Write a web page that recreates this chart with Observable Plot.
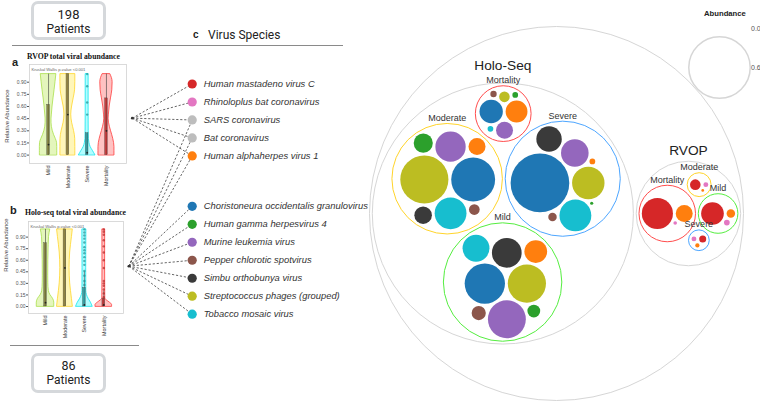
<!DOCTYPE html>
<html><head><meta charset="utf-8">
<script src="https://cdn.jsdelivr.net/npm/d3@7"></script>
<script src="https://cdn.jsdelivr.net/npm/@observablehq/plot@0.6"></script>
<style>
body{margin:0;background:#fff;}
#wrap{position:relative;width:760px;height:403px;overflow:hidden;background:#fff;font-family:"Liberation Sans",Arial,sans-serif;color:#222;}
#wrap svg{position:absolute;}
.box{position:absolute;border:3px solid #d5d8db;border-radius:7px;box-sizing:border-box;text-align:center;font-family:Roboto,"Liberation Sans",sans-serif;font-size:12px;line-height:14px;color:#222;}
.hr{position:absolute;height:0;border-top:1px solid #8a8a8a;}
.title{position:absolute;font-family:"Liberation Serif",serif;font-weight:bold;font-size:7.7px;color:#111;white-space:nowrap;line-height:8px;}
.plab{position:absolute;font-weight:bold;font-size:11px;line-height:12px;}
.ylab{position:absolute;transform:translate(-50%,-50%) rotate(-90deg);font-size:6px;white-space:nowrap;color:#444;}
.t{position:absolute;white-space:nowrap;}
</style></head><body><div id="wrap">
<div class="box" style="left:31px;top:1px;width:75px;height:39px;padding-top:4px;"><span style="font-size:13px">198</span><br>Patients</div>
<div class="box" style="left:31px;top:353px;width:75px;height:40px;padding-top:3px;"><span style="font-size:12.5px">86</span><br>Patients</div>
<div class="hr" style="left:12px;top:45px;width:331px;"></div>
<div class="hr" style="left:10px;top:345px;width:129px;"></div>
<div class="t" style="left:193px;top:28px;font-size:10px;font-weight:bold;line-height:14px;">c</div>
<div class="t" style="left:208px;top:28px;font-size:12px;line-height:14px;font-family:Roboto,'Liberation Sans',sans-serif;">Virus Species</div>
<div class="plab" style="left:12px;top:56px;">a</div>
<div class="title" style="left:27px;top:53px;">RVOP total viral abundance</div>
<div class="plab" style="left:10px;top:204px;">b</div>
<div class="title" style="left:25px;top:209px;">Holo-seq total viral abundance</div>
<div class="ylab" style="left:7px;top:116px;">Relative Abundance</div>
<div class="ylab" style="left:6px;top:245px;">Relative Abundance</div>
<div class="t" style="left:704px;top:9px;font-size:7.7px;font-weight:bold;line-height:10px;">Abundance</div>
<div class="t" style="left:751px;top:25px;font-size:7px;color:#555;line-height:8px;">0.0</div>
<div class="t" style="left:751px;top:64px;font-size:7px;color:#555;line-height:8px;">0.6</div>
</div>
<script>
// ---------- data ----------
const severityGroups = ["Mild", "Moderate", "Severe", "Mortality"];

// violin profiles: [relative abundance, relative density]
const rvopMildViolin = [[0,1.0],[0.05,1.0],[0.1,1.0],[0.15,0.98],[0.2,0.83],[0.25,0.63],[0.3,0.48],[0.35,0.38],[0.4,0.34],[0.45,0.34],[0.5,0.38],[0.6,0.46],[0.7,0.57],[0.8,0.69],[0.9,0.8],[1.0,0.9]];
const rvopModerateViolin = [[0,0.86],[0.1,0.86],[0.2,0.85],[0.3,0.71],[0.4,0.49],[0.5,0.39],[0.6,0.49],[0.7,0.67],[0.8,0.83],[0.9,0.86],[1.0,0.86]];
const rvopSevereViolin = [[0,0.94],[0.05,0.67],[0.1,0.4],[0.15,0.26],[0.2,0.2],[0.3,0.18],[0.5,0.17],[1.0,0.17]];
const rvopMortalityViolin = [[0,0.92],[0.1,0.92],[0.2,0.78],[0.3,0.52],[0.4,0.29],[0.45,0.25],[0.5,0.28],[0.6,0.37],[0.7,0.52],[0.8,0.67],[0.9,0.71],[0.95,0.63],[1.0,0.44]];
// boxes: [low whisker, q1, median, q3, high whisker]
const rvopBoxes = [[0,0,0.13,0.62,1.0],[0,0,0.5,1.0,1.0],[0,0,0.03,0.27,0.27],[0,0,0.3,0.70,1.0]];
const rvopOutliers = [[],[],[0.5,0.65,0.85,1.0],[]];

const holoMildViolin = [[0,1.0],[0.05,1.0],[0.1,0.86],[0.15,0.55],[0.2,0.38],[0.3,0.32],[0.4,0.31],[0.6,0.32],[0.8,0.36],[0.9,0.4],[0.95,0.46],[1.0,0.54]];
const holoModerateViolin = [[0,0.9],[0.1,0.8],[0.2,0.69],[0.3,0.6],[0.5,0.53],[0.7,0.6],[0.8,0.69],[0.9,0.8],[1.0,0.9]];
const holoSevereViolin = [[0,0.94],[0.05,0.75],[0.1,0.48],[0.15,0.29],[0.2,0.22],[0.5,0.21],[1.0,0.23]];
const holoMortalityViolin = [[0,0.95],[0.02,0.95],[0.05,0.69],[0.08,0.34],[0.1,0.17],[0.5,0.15],[1.0,0.16]];
const holoBoxes = [[0,0,0.05,0.82,1.0],[0,0,0.5,1.0,1.0],[0,0,0.02,0.24,0.45],[0,0,0.02,0.1,0.2]];
const holoOutliers = [[],[],[1.0,0.96,0.92,0.88,0.83,0.77,0.73,0.69,0.64,0.59,0.54,0.46,0.40,0.33,0.28],[1.0,0.97,0.93,0.86,0.78,0.70,0.60,0.50,0.33,0.30,0.27,0.22,0.17,0.12]];

const yTicks = [0, 0.15, 0.30, 0.45, 0.60, 0.75, 0.90];
const kruskalText = "Kruskal Wallis p-value <0.001";

// virus species legend
const speciesNames = ["Human mastadeno virus C","Rhinoloplus bat coronavirus","SARS coronavirus","Bat coronavirus","Human alphaherpes virus 1",
  "Choristoneura occidentalis granulovirus","Human gamma herpesvirus 4","Murine leukemia virus","Pepper chlorotic spotvirus","Simbu orthobunya virus","Streptococcus phages (grouped)","Tobacco mosaic virus"];
const speciesColors = ["#d62728","#e377c2","#bdbdbd","#bdbdbd","#ff7f0e","#1f77b4","#2ca02c","#9467bd","#8c564b","#3a3a3a","#bcbd22","#17becf"];
const rvopLinked = ["Human mastadeno virus C","Rhinoloplus bat coronavirus","SARS coronavirus","Bat coronavirus","Human alphaherpes virus 1"];
const holoLinked = ["SARS coronavirus","Bat coronavirus","Human alphaherpes virus 1","Choristoneura occidentalis granulovirus","Human gamma herpesvirus 4","Murine leukemia virus","Pepper chlorotic spotvirus","Simbu orthobunya virus","Streptococcus phages (grouped)","Tobacco mosaic virus"];

// circle packing: mean abundance per species (pack order)
const holoModerate = [["Streptococcus phages (grouped)",0.368],["Choristoneura occidentalis granulovirus",0.306],["Tobacco mosaic virus",0.161],["Murine leukemia virus",0.146],["Human gamma herpesvirus 4",0.058],["Simbu orthobunya virus",0.049],["Human alphaherpes virus 1",0.046],["Pepper chlorotic spotvirus",0.018]];
const holoSevere = [["Choristoneura occidentalis granulovirus",0.547],["Streptococcus phages (grouped)",0.167],["Tobacco mosaic virus",0.161],["Murine leukemia virus",0.121],["Simbu orthobunya virus",0.103],["Pepper chlorotic spotvirus",0.0114],["Human alphaherpes virus 1",0.0052],["Human gamma herpesvirus 4",0.0016]];
const holoMild = [["Choristoneura occidentalis granulovirus",0.258],["Streptococcus phages (grouped)",0.232],["Murine leukemia virus",0.228],["Simbu orthobunya virus",0.140],["Tobacco mosaic virus",0.115],["Human alphaherpes virus 1",0.082],["Pepper chlorotic spotvirus",0.032],["Human gamma herpesvirus 4",0.026]];
const holoMortality = [["Choristoneura occidentalis granulovirus",0.0863],["Human alphaherpes virus 1",0.0757],["Murine leukemia virus",0.0457],["Streptococcus phages (grouped)",0.0178],["Pepper chlorotic spotvirus",0.0064],["Human gamma herpesvirus 4",0.0052],["Tobacco mosaic virus",0.0052]];
const rvopMortality = [["Human mastadeno virus C",0.154],["Human alphaherpes virus 1",0.0457],["Rhinoloplus bat coronavirus",0.0021]];
const rvopMild = [["Human mastadeno virus C",0.0817],["Human alphaherpes virus 1",0.0114],["Rhinoloplus bat coronavirus",0.0052]];
const rvopSevere = [["Rhinoloplus bat coronavirus",0.0038],["Human mastadeno virus C",0.0078],["Human alphaherpes virus 1",0.0029]];
const rvopModerate = [["Human mastadeno virus C",0.0178],["Rhinoloplus bat coronavirus",0.0038],["Human alphaherpes virus 1",0.0012]];
const legendAbundance = 0.6;

// ---------- styles ----------
const violinStyle = [
  {fill:"#d2f08f", stroke:"#a9e04a", box:"#6f6c2c"},
  {fill:"#fff08a", stroke:"#ffd52a", box:"#857630"},
  {fill:"#7ffcff", stroke:"#12e6ee", box:"#1f8e92"},
  {fill:"#ff9a9a", stroke:"#ff3b3b", box:"#b42222"}
];
const groupStroke = {Mild:"#55ee40", Moderate:"#ffd42a", Severe:"#4da6ff", Mortality:"#ff4d4d"};
const colorOf = Object.fromEntries(speciesNames.map((s,i)=>[s, speciesColors[i]]));
const wrap = document.getElementById("wrap");
function place(svg, left, top){ svg.style.left = left+"px"; svg.style.top = top+"px"; wrap.appendChild(svg); }

// ---------- violin panels ----------
function violinChart(profiles, boxes, outliers, o){
  const half = 0.45, bw = 0.07;
  const marks = [Plot.frame({stroke:"#d2d2d2", strokeWidth:0.8})];
  profiles.forEach((prof, i) => {
    const c = i + 0.5, st = violinStyle[i];
    marks.push(Plot.areaX(prof, {y: d=>d[0], x1: d=>c - d[1]*half, x2: d=>c + d[1]*half, fill: st.fill, fillOpacity: 0.6, stroke: st.stroke, strokeWidth: 0.8, curve: "monotone-y"}));
  });
  boxes.forEach((b, i) => {
    const c = i + 0.5, st = violinStyle[i];
    marks.push(Plot.ruleX([b], {x: c, y1: d=>d[0], y2: d=>d[4], stroke: "#3a3a3a", strokeWidth: 0.6}));
    marks.push(Plot.rect([b], {x1: c-bw, x2: c+bw, y1: d=>d[1], y2: d=>d[3], fill: st.box, fillOpacity: 0.8, stroke: "#333", strokeWidth: 0.3}));
    marks.push(Plot.dot(outliers[i], {x: c, y: d=>d, r: 1.2, fill: st.box, fillOpacity: 0.7}));
    marks.push(Plot.dot([b], {x: c, y: d=>d[2], r: 0.9, fill: "#222"}));
  });
  marks.push(Plot.text([kruskalText], {frameAnchor:"top-left", dx: 2, dy: 4, fontSize: 4.1, fill: "#666"}));
  marks.push(Plot.axisY({ticks: yTicks, tickFormat: d3.format(".2f"), fontSize: 5, tickSize: 2, tickPadding: 1, label: null, color: "#555"}));
  marks.push(Plot.axisX({ticks: [0.5,1.5,2.5,3.5], tickFormat: d => severityGroups[Math.floor(d)], tickRotate: -90, tickSize: 0, tickPadding: 2, fontSize: 5.4, label: null, color: "#444"}));
  return Plot.plot({
    width: o.width, height: o.height, marginLeft: o.ml, marginRight: o.mr, marginTop: o.mt, marginBottom: o.mb,
    x: {domain: [0,4], insetLeft: o.il, insetRight: o.ir},
    y: {domain: [0,1], insetTop: o.it, insetBottom: o.ib},
    style: {fontFamily: "Liberation Sans, Arial, sans-serif", background: "none", overflow: "visible"},
    marks
  });
}
place(violinChart([rvopMildViolin, rvopModerateViolin, rvopSevereViolin, rvopMortalityViolin], rvopBoxes, rvopOutliers,
  {width:130, height:135, ml:29, mr:4, mt:4, mb:32, il:9.4, ir:10.4, it:9.6, ib:8.4}), 0, 60);
place(violinChart([holoMildViolin, holoModerateViolin, holoSevereViolin, holoMortalityViolin], holoBoxes, holoOutliers,
  {width:127, height:129, ml:28, mr:4, mt:5, mb:32, il:7.3, ir:10, it:7.9, ib:7}), 0, 216);

// ---------- legend c with dashed connectors ----------
const legendRows = speciesNames.map((s,i) => ({name: s, color: speciesColors[i], row: i < 5 ? i : i + 1.8}));
const rowOf = Object.fromEntries(legendRows.map(d => [d.name, d.row]));
const anchorA = {x: 0.054, row: 1.9}, anchorB = {x: 0, row: 10.13};
const links = [...rvopLinked.map(s => ({a: anchorA, row: rowOf[s]})), ...holoLinked.map(s => ({a: anchorB, row: rowOf[s]}))];
place(Plot.plot({
  width: 260, height: 280, marginLeft: 8.3, marginRight: 188.3, marginTop: 23.5, marginBottom: 26.3,
  x: {domain: [0,1], axis: null}, y: {domain: [0, 12.8], axis: null, reverse: true},
  style: {fontFamily: "Liberation Sans, Arial, sans-serif", background: "none", overflow: "visible"},
  marks: [
    Plot.link(links, {x1: d=>d.a.x, y1: d=>d.a.row, x2: 1, y2: d=>d.row, stroke: "#555", strokeWidth: 0.9, strokeDasharray: "2.2,1.8"}),
    Plot.dot([anchorA, anchorB], {x: "x", y: "row", r: 1.3, fill: "#333"}),
    ...legendRows.map(d => Plot.dot([d], {x: 1, y: "row", r: 4.6, fill: d.color})),
    Plot.text(legendRows, {x: 1, y: "row", text: "name", dx: 11.5, textAnchor: "start", fontSize: 9.4, fontStyle: "italic", fill: "#333"})
  ]
}), 120, 60);

// ---------- panel d: circle packing ----------
const tree = {name: "root", children: [
  {name: "Holo-Seq", children: [
    {name: "Moderate", children: holoModerate.map(([n,v]) => ({name: n, value: v}))},
    {name: "Severe", children: holoSevere.map(([n,v]) => ({name: n, value: v}))},
    {name: "Mild", children: holoMild.map(([n,v]) => ({name: n, value: v}))},
    {name: "Mortality", children: holoMortality.map(([n,v]) => ({name: n, value: v}))}
  ]},
  {name: "RVOP", children: [
    {name: "Mortality", children: rvopMortality.map(([n,v]) => ({name: n, value: v}))},
    {name: "Mild", children: rvopMild.map(([n,v]) => ({name: n, value: v}))},
    {name: "Severe", children: rvopSevere.map(([n,v]) => ({name: n, value: v}))},
    {name: "Moderate", children: rvopModerate.map(([n,v]) => ({name: n, value: v}))}
  ]}
]};
const root = d3.hierarchy(tree).sum(d => d.value || 0);
const S = 374;
d3.pack().size([S, S]).padding(3.5)(root);
const nodes = root.descendants();
const lvl0 = nodes.filter(d => d.depth === 0), lvl1 = nodes.filter(d => d.depth === 1);
const lvl2 = nodes.filter(d => d.depth === 2), leaves = root.leaves();
const kR = leaves[0].r / Math.sqrt(leaves[0].value);
place(Plot.plot({
  width: 390, height: 403, margin: 0,
  x: {domain: [0, S], range: [-1, S - 1], axis: null},
  y: {domain: [0, S], range: [26, 26 + S], axis: null},
  r: {type: "identity"},
  style: {fontFamily: "Liberation Sans, Arial, sans-serif", background: "none", overflow: "visible"},
  marks: [
    Plot.dot([...lvl0, ...lvl1], {x: "x", y: "y", r: "r", stroke: "#d6d6d6", strokeWidth: 1, fill: "none"}),
    ...severityGroups.map(g => Plot.dot(lvl2.filter(d => d.data.name === g), {x: "x", y: "y", r: "r", stroke: groupStroke[g], strokeWidth: 1, fill: "none"})),
    ...speciesNames.map(s => Plot.dot(leaves.filter(d => d.data.name === s), {x: "x", y: "y", r: "r", fill: colorOf[s]})),
    Plot.text(lvl1.filter(d => d.data.name === "Holo-Seq"), {x: "x", y: d => d.y - d.r, text: d => d.data.name, dy: -17, fontSize: 13.7, fill: "#222"}),
    Plot.text(lvl1.filter(d => d.data.name === "RVOP"), {x: "x", y: d => d.y - d.r, text: d => d.data.name, dy: -11, fontSize: 13.7, fill: "#222"}),
    Plot.text(lvl2, {x: "x", y: d => d.y - d.r, text: d => d.data.name, dy: -5.5, fontSize: 9, fill: "#333"})
  ]
}), 370, 0);

// abundance size legend
place(Plot.plot({
  width: 70, height: 70, margin: 0, r: {type: "identity"},
  style: {background: "none", overflow: "visible"},
  marks: [Plot.dot([legendAbundance], {frameAnchor: "middle", r: d => kR * Math.sqrt(d), stroke: "#d6d6d6", fill: "none"})]
}), 684, 32);
</script>
</body></html>
